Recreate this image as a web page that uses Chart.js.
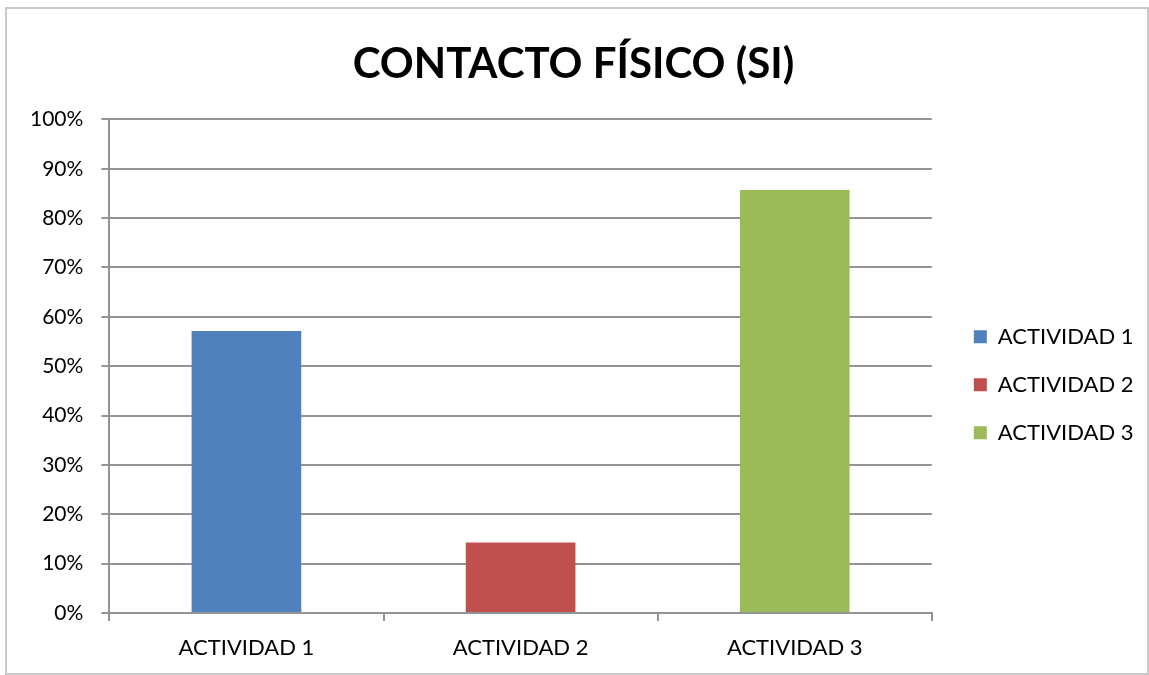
<!DOCTYPE html>
<html>
<head>
<meta charset="utf-8">
<script src="https://cdn.jsdelivr.net/npm/chart.js@4/dist/chart.umd.min.js"></script>
<style>
  body { margin: 0; background: #fff; }
  #frame { position: absolute; left: 5px; top: 7px; width: 1140px; height: 664px; border: 2px solid #c9c9c9; }
  #chart { position: absolute; left: 0; top: 0; }
</style>
</head>
<body>
<div id="frame"></div>
<canvas id="chart" width="1149" height="675"></canvas>
<script>
const categories = ['ACTIVIDAD 1', 'ACTIVIDAD 2', 'ACTIVIDAD 3'];
const values = [57.14, 14.29, 85.71];
const colors = ['#4F81BD', '#C0504D', '#9BBB59'];
const yTicks = [0, 10, 20, 30, 40, 50, 60, 70, 80, 90, 100];

const font = 'Lato, "Open Sans", sans-serif';
const gridColor = '#939393';

new Chart(document.getElementById('chart'), {
  type: 'bar',
  data: {
    labels: categories,
    datasets: [{
      data: values,
      backgroundColor: colors,
      categoryPercentage: 1,
      barPercentage: 0.4
    }]
  },
  options: {
    responsive: false,
    animation: false,
    layout: {padding: {left: 12, right: 14, top: 0, bottom: 0}},
    plugins: {
      title: {
        display: true,
        text: 'CONTACTO FÍSICO (SI)',
        color: '#000',
        font: {family: font, size: 42, weight: 'bold'},
        padding: {top: 39, bottom: 30}
      },
      legend: {
        position: 'right',
        // empty title just pushes the items down a bit
        title: {display: true, text: ' ', padding: {top: 40, bottom: 40}},
        labels: {
          color: '#000',
          font: {family: font, size: 22},
          boxWidth: 13,
          boxHeight: 13,
          padding: 26,
          generateLabels: (chart) => categories.map((c, i) => ({
            text: c,
            fillStyle: colors[i],
            strokeStyle: colors[i],
            fontColor: '#000',
            lineWidth: 0,
            index: i
          }))
        }
      },
      tooltip: {enabled: false}
    },
    scales: {
      x: {
        grid: {display: true, drawOnChartArea: false, drawTicks: true, tickLength: 8, color: gridColor, lineWidth: 2},
        border: {color: gridColor, width: 2},
        ticks: {color: '#000', font: {family: font, size: 22, lineHeight: 1}, padding: 16}
      },
      y: {
        min: 0,
        max: 100,
        afterBuildTicks: (axis) => { axis.ticks = yTicks.map(v => ({value: v})); },
        grid: {color: gridColor, lineWidth: 2, tickLength: 8},
        border: {color: gridColor, width: 2},
        ticks: {color: '#000', font: {family: font, size: 21}, padding: 18, callback: (v) => v + '%'}
      },
      // empty axis, only keeps a gap between the plot and the legend
      gap: {
        position: 'right',
        grid: {display: false},
        border: {display: false},
        ticks: {display: false},
        afterFit: (s) => { s.width = 16; }
      }
    }
  }
});
</script>
</body>
</html>
